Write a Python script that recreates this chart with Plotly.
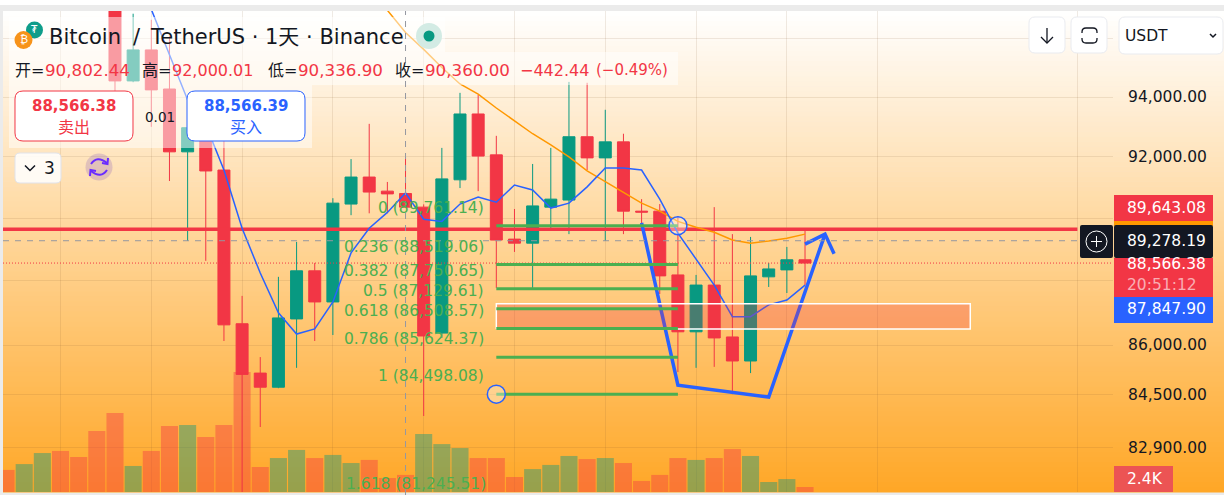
import numpy as np
import plotly.graph_objects as go

W, H = 1224, 495
FONT = "DejaVu Sans, Noto Sans CJK SC, sans-serif"
RED = "#f23645"
GREEN = "#089981"
BLUE = "#2962ff"
ORANGE = "#ff9800"
FIB_GREEN = "#4caf50"
INK = "#131722"

# candles, first one is index 0
opens = [97350, 94544, 95600, 94270, 92170, 92970, 91570, 86660, 85140, 84710, 86810, 88320, 87340,
         90460, 91340, 90880, 90802.44, 90360, 86370, 91250, 93430, 92070, 89330, 89200, 90360, 90590,
         92670, 91970, 92500, 90230, 90230, 88190, 86410, 87870, 86250, 85510, 88130, 88350, 88670]
highs = [98000, 96850, 96640, 96070, 93230, 93230, 92570, 87530, 85630, 88130, 89240, 88570, 90650,
         91930, 93100, 91180, 92000.01, 90450, 92300, 94140, 94070, 92700, 90300, 91770, 92300, 94510,
         94480, 93570, 92770, 90620, 90460, 90070, 88190, 90360, 89490, 89400, 88570, 89080, 89620]
lows = [94200, 94500, 93000, 91210, 89270, 88635, 86125, 81400, 83510, 84680, 85300, 86125, 86310,
        90100, 90160, 90160, 90336.90, 83840, 86220, 90980, 90880, 87780, 88920, 87780, 89620, 89490,
        91570, 89270, 89490, 89780, 87590, 85170, 85300, 85330, 84500, 85140, 87810, 87620, 87870]
closes = [94544, 95600, 94240, 92170, 92970, 91540, 86625, 85100, 84710, 86840, 88320, 87340, 90490,
          91340, 90850, 90790, 90360.00, 86280, 91280, 93430, 92030, 89300, 89200, 90400, 90620, 92670,
          91970, 92500, 90230, 90200, 88160, 86410, 87870, 86220, 85510, 88160, 88380, 88670, 88566.38]

# moving averages
ma_fast_start = 2
ma_fast = [97000, 95430, 93900, 93070, 91570, 89680, 88250, 87000, 86340, 86500, 87340, 88890, 89680,
           90190, 90820, 89970, 89900, 90460, 90690, 90520, 91080, 90920, 90330, 90490, 91020, 91640,
           91640, 91570, 90620, 89520, 88670, 87870, 86880, 86880, 87250, 87400, 87870]
ma_slow_start = 15
ma_slow = [96970, 96200, 95620, 95000, 94440, 94100, 93630, 93200, 92770, 92400, 92000, 91540, 91180,
           90820, 90490, 90230, 89900, 89710, 89550, 89300, 89200, 89270, 89360, 89490]

# volume in thousands, first bar is index -6
volume_start = -6
volumes = [10.6, 13.4, 18.7, 19.7, 16.8, 29.3, 37.9, 12.5, 19.7, 31.7, 32.2, 26.4, 32.2, 57.6, 12.0, 16.3,
           20.2, 16.3, 17.8, 13.9, 15.4, 6.7, 8.2, 27.8, 23.0, 21.1, 16.3, 16.3, 7.2, 11.0, 13.0, 17.3, 15.8,
           16.3, 13.9, 5.3, 8.2, 16.3, 15.4, 16.3, 20.6, 17.3, 4.8, 6.2, 2.4]
volume_up = [0, 1, 1, 0, 0, 0, 0, 1, 0, 0, 1, 0, 0, 0, 0, 1, 1, 0, 1, 1, 0, 0, 0, 1, 1, 1, 0, 0, 0, 1, 1, 1,
             0, 1, 0, 0, 0, 0, 1, 0, 0, 1, 1, 1, 0]

# drawings
fib_levels = [89761.14, 88519.06, 87750.65, 87129.61, 86508.57, 85624.37, 84498.08, 81245.51]
fib_ratios = ["0", "0.236", "0.382", "0.5", "0.618", "0.786", "1", "1.618"]
fib_start, fib_end = 21, 31
box_x = [21, 47.1]
box_y = [86500, 87280]
path_x = [29, 31, 36, 39.1]
path_y = [89850, 84770, 84410, 89490]
arrow_x = [38, 39.1, 39.6]
arrow_y = [89170, 89490, 88860]
alert_price = 89643.08
cross_price = 89278.19
last_price = 88566.38
cross_index = 16

price_ticks = [96000, 94000, 92000, 90000, 88000, 86000, 84500, 82900]
# 96,000 and the two tagged levels have their label hidden in the picture
price_hidden = [96000, 90000, 88000]
time_ticks = [-3, 2, 7, 12, 17, 22, 27, 32, 37, 42, 53]
PRICE_MIN, PRICE_MAX = 81586, 96944
VOLUME_MAX = 230.9
INDEX_MIN, INDEX_MAX = -6.167, 54.96


def px(x):
    return x / W


def py(y):
    return 1 - y / H


def box(x0, y0, x1, y1, **kw):
    return dict(type="rect", xref="paper", yref="paper", x0=px(x0), x1=px(x1), y0=py(y0), y1=py(y1), **kw)


def poly(points, close=False):
    s = "M" + " L".join(f"{px(x):.5f},{py(y):.5f}" for x, y in points)
    return s + (" Z" if close else "")


def rounded(x0, y0, x1, y1, r):
    pts = [("M", x0 + r, y0), ("L", x1 - r, y0), ("Q", x1, y0, x1, y0 + r), ("L", x1, y1 - r),
           ("Q", x1, y1, x1 - r, y1), ("L", x0 + r, y1), ("Q", x0, y1, x0, y1 - r), ("L", x0, y0 + r),
           ("Q", x0, y0, x0 + r, y0)]
    out = ""
    for p in pts:
        vals = p[1:]
        coords = [f"{px(vals[i]):.5f},{py(vals[i + 1]):.5f}" for i in range(0, len(vals), 2)]
        out += p[0] + " ".join(coords) + " "
    return out + "Z"


def round_shape(x0, y0, x1, y1, r, fill, line=None, width=1):
    return dict(type="path", xref="paper", yref="paper", path=rounded(x0, y0, x1, y1, r), fillcolor=fill,
                line=dict(color=line or "rgba(0,0,0,0)", width=width if line else 0))


def stroke(points, color=INK, width=1.5):
    return dict(type="path", xref="paper", yref="paper", path=poly(points), line=dict(color=color, width=width))


def curve(p0, c, p1, color, width=2):
    path = f"M{px(p0[0]):.5f},{py(p0[1]):.5f} Q{px(c[0]):.5f},{py(c[1]):.5f} {px(p1[0]):.5f},{py(p1[1]):.5f}"
    return dict(type="path", xref="paper", yref="paper", path=path, line=dict(color=color, width=width))


def circle(cx, cy, r, fill, line=None, width=1):
    return dict(type="circle", xref="paper", yref="paper", x0=px(cx - r), x1=px(cx + r), y0=py(cy + r), y1=py(cy - r),
                fillcolor=fill, line=dict(color=line or "rgba(0,0,0,0)", width=width if line else 0))


def label(x, y, text, size=15.5, color=INK, anchor="left"):
    return dict(xref="paper", yref="paper", x=px(x), y=py(y), text=text, showarrow=False, xanchor=anchor,
                yanchor="middle", font=dict(family=FONT, size=size, color=color), borderpad=0, borderwidth=0)


fig = go.Figure()

index = list(range(len(opens)))
vol_x = list(range(volume_start, volume_start + len(volumes)))
vol_colors = ["rgba(8,153,129,0.42)" if up else "rgba(242,54,69,0.42)" for up in volume_up]
fig.add_trace(go.Bar(x=vol_x, y=volumes, marker=dict(color=vol_colors, line_width=0), xaxis="x", yaxis="y"))

# everything below sits under the candles
fig.add_trace(go.Scatter(x=[INDEX_MIN, 53], y=[alert_price, alert_price], mode="lines",
                         line=dict(color=RED, width=3.5), xaxis="x", yaxis="y2"))
fig.add_trace(go.Scatter(x=[INDEX_MIN, INDEX_MAX], y=[last_price, last_price], mode="lines",
                         line=dict(color=RED, width=1, dash="1px,2px"), xaxis="x", yaxis="y2"))
fig.add_trace(go.Scatter(x=list(range(ma_slow_start, ma_slow_start + len(ma_slow))), y=ma_slow, mode="lines",
                         line=dict(color=ORANGE, width=1.5), xaxis="x", yaxis="y2"))
fig.add_trace(go.Scatter(x=list(range(ma_fast_start, ma_fast_start + len(ma_fast))), y=ma_fast, mode="lines",
                         line=dict(color=BLUE, width=1.5), xaxis="x", yaxis="y2"))
fig.add_trace(go.Scatter(x=path_x, y=path_y, mode="lines", line=dict(color=BLUE, width=3.5), xaxis="x", yaxis="y2"))
fig.add_trace(go.Scatter(x=arrow_x, y=arrow_y, mode="lines", line=dict(color=BLUE, width=3.5), xaxis="x", yaxis="y2"))
fig.add_trace(go.Scatter(x=[box_x[0], box_x[1], box_x[1], box_x[0], box_x[0]],
                         y=[box_y[0], box_y[0], box_y[1], box_y[1], box_y[0]],
                         mode="lines", fill="toself", fillcolor="rgba(242,54,69,0.28)",
                         line=dict(color="white", width=1.5), xaxis="x", yaxis="y2"))

fig.add_trace(go.Candlestick(x=index, open=opens, high=highs, low=lows, close=closes, whiskerwidth=0,
                             increasing=dict(line=dict(color=GREEN, width=1), fillcolor=GREEN),
                             decreasing=dict(line=dict(color=RED, width=1), fillcolor=RED),
                             xaxis="x", yaxis="y2"))

for level in fib_levels[:-1]:
    fig.add_trace(go.Scatter(x=[fib_start, fib_end], y=[level, level], mode="lines",
                             line=dict(color=FIB_GREEN, width=3), xaxis="x", yaxis="y2"))
fig.add_trace(go.Scatter(x=[fib_end, fib_start], y=[fib_levels[0], fib_levels[6]], mode="markers",
                         marker=dict(size=18, color="rgba(255,255,255,0.35)", line=dict(color=BLUE, width=1.5)),
                         xaxis="x", yaxis="y2"))

# page and card background, white fading to orange
shapes = [box(0, 0, W, 5, fillcolor="white", line_width=0, layer="below")]
steps = 96
for i in range(steps):
    t = (i + 0.5) / steps
    colour = f"rgb(255,{255 - 88 * t:.0f},{255 - 217 * t:.0f})"
    y0 = 11 + i * 481 / steps
    shapes.append(box(3, y0, W, y0 + 481 / steps + 0.5, fillcolor=colour, line_width=0, layer="below"))

# legend panels
panel = "rgba(255,255,255,0.5)"
shapes += [box(9, 17, 445, 52, fillcolor=panel, line_width=0),
           box(9, 52, 678, 85, fillcolor=panel, line_width=0),
           box(9, 85, 312, 148, fillcolor=panel, line_width=0)]
shapes += [circle(34.5, 30, 8.5, "#0f9d8a"), circle(23.5, 40, 9, "#f7931a"),
           circle(429, 36, 13, "#d3ebe4"), circle(429, 36, 5.5, GREEN)]
shapes += [round_shape(15, 91, 133, 141, 8, "white", RED), round_shape(187, 91, 305, 141, 8, "white", BLUE),
           round_shape(15, 153, 61, 183, 5, "rgba(255,255,255,0.85)", "#e0e3eb")]
shapes += [stroke([(25, 165.5), (30, 170.5), (35, 165.5)], INK, 1.5)]
shapes += [circle(99, 167, 13.5, "rgba(103,58,183,0.2)"),
           curve((91, 164), (97, 155), (107, 163), "#6a2cff", 2), curve((107, 170), (101, 179), (91, 171), "#6a2cff", 2),
           stroke([(108, 158), (107.5, 164), (102, 163)], "#6a2cff", 2),
           stroke([(90, 176), (90.5, 170), (96, 171)], "#6a2cff", 2)]

# top right buttons
shapes += [round_shape(1029, 17, 1065, 53, 6, "white", "#e9ebf0"), round_shape(1071, 17, 1107, 53, 6, "white", "#e9ebf0"),
           round_shape(1119, 17, 1223, 54, 6, "white", "#e9ebf0")]
shapes += [stroke([(1047, 28), (1047, 43)], INK, 1.3), stroke([(1041, 37), (1047, 43), (1053, 37)], INK, 1.3)]
shapes += [round_shape(1082, 28, 1097, 43, 4, "rgba(0,0,0,0)", INK, 1.3),
           box(1079, 33, 1100, 38, fillcolor="white", line_width=0)]
shapes += [stroke([(1210, 34), (1213, 37), (1216, 34)], INK, 1.5)]

# crosshair
cross = dict(color="#9598a1", width=1, dash="6px,6px")
shapes += [dict(type="line", xref="x", yref="paper", x0=cross_index, x1=cross_index, y0=0, y1=py(11), line=cross),
           dict(type="line", xref="paper", yref="y2", x0=px(3), x1=px(1080), y0=cross_price, y1=cross_price, line=cross)]

# price tags
shapes += [box(1114, 195, 1213, 221, fillcolor=RED, line_width=0),
           box(1114, 221, 1213, 226, fillcolor=ORANGE, line_width=0),
           box(1114, 258, 1213, 298, fillcolor=RED, line_width=0),
           box(1114, 297, 1213, 323, fillcolor=BLUE, line_width=0),
           round_shape(1114, 225, 1213, 258, 2, INK),
           round_shape(1080, 225, 1113, 258, 2, INK),
           circle(1096.5, 241.5, 10.5, "rgba(0,0,0,0)", "white", 1),
           stroke([(1091, 241.5), (1102, 241.5)], "white", 1),
           stroke([(1096.5, 236), (1096.5, 247)], "white", 1),
           box(1114, 466, 1173, 492, fillcolor="rgb(236,84,84)", line_width=0)]
tag_left = 1127

annotations = [label(tag_left, 208, f"{alert_price:,.2f}", color="white"),
               label(tag_left, 241, f"{cross_price:,.2f}", color="white"),
               label(tag_left, 263.5, f"{last_price:,.2f}", color="white"),
               label(tag_left, 285, "20:51:12", color="rgba(255,255,255,0.6)"),
               label(tag_left, 309, "87,847.90", color="white"),
               label(tag_left, 479, "2.4K", color="white")]

# the 1.618 level is off the axis, only its text shows at the foot of the chart
for level, ratio in zip(fib_levels[:-1], fib_ratios[:-1]):
    annotations.append(dict(xref="x", yref="y2", x=fib_start, y=np.log10(level), yshift=18, xshift=-10,
                            text=f"{ratio} ({level:,.2f})", showarrow=False, xanchor="right", yanchor="middle",
                            font=dict(family=FONT, size=15.5, color=FIB_GREEN)))
annotations.append(label(486, 484, f"{fib_ratios[-1]} ({fib_levels[-1]:,.2f})", 15.5, FIB_GREEN, "right"))

annotations += [label(23.5, 40, "₿", 11, "white", "center"), label(34.5, 29, "₮", 10, "white", "center"),
                label(49, 37, "Bitcoin", 21), label(133, 37, "/", 21),
                label(150, 37, "TetherUS · 1天 · Binance", 21),
                label(160, 117, "0.01", 13.5, INK, "center"),
                label(74, 106, "<b>88,566.38</b>", 15, RED, "center"), label(74, 127, "卖出", 16, RED, "center"),
                label(246, 106, "<b>88,566.39</b>", 15, BLUE, "center"), label(246, 127, "买入", 16, BLUE, "center"),
                label(44, 168, "3", 17), label(1125, 36, "USDT", 15.5)]

legend_x = [15, 45, 142, 172, 268, 298, 395, 425, 520, 596]
legend_text = ["开=", "90,802.44", "高=", "92,000.01", "低=", "90,336.90", "收=", "90,360.00", "−442.44", "(−0.49%)"]
legend_color = [INK, RED, INK, RED, INK, RED, INK, RED, RED, RED]
legend_size = [16, 16.7, 16, 16, 16, 16.7, 16, 16.7, 16, 15]
for x, text, colour, size in zip(legend_x, legend_text, legend_color, legend_size):
    annotations.append(label(x, 70, text, size, colour))

grid = "rgba(120,80,40,0.12)"
fig.update_layout(
    width=W, height=H, margin=dict(l=0, r=0, t=0, b=0, pad=0), showlegend=False,
    paper_bgcolor="#ebebeb", plot_bgcolor="rgba(0,0,0,0)", bargap=0.06, hovermode=False,
    boxgap=0.34, boxgroupgap=0,
    shapes=shapes, annotations=annotations,
    xaxis=dict(domain=[px(3), px(1113)], range=[INDEX_MIN, INDEX_MAX], rangeslider_visible=False,
               tickmode="array", tickvals=time_ticks, showticklabels=False, ticks="", showgrid=True,
               gridcolor=grid, gridwidth=1, zeroline=False, showline=False),
    yaxis=dict(domain=[py(492), py(11)], range=[0, VOLUME_MAX], showgrid=False, showticklabels=False,
               ticks="", zeroline=False, showline=False),
    yaxis2=dict(overlaying="y", side="right", type="log", anchor="x",
                range=[np.log10(PRICE_MIN), np.log10(PRICE_MAX)],
                tickmode="array", tickvals=price_ticks,
                ticktext=["" if v in price_hidden else f"{v:,.2f}" for v in price_ticks],
                ticks="outside", ticklen=11, tickcolor="rgba(0,0,0,0)", showgrid=True, gridcolor=grid, gridwidth=1,
                zeroline=False, showline=False, tickfont=dict(family=FONT, size=15.5, color=INK)),
)

fig.write_html("out.html", config=dict(displayModeBar=False),
               post_script="document.body.style.margin='0';document.documentElement.style.overflow='hidden';")
